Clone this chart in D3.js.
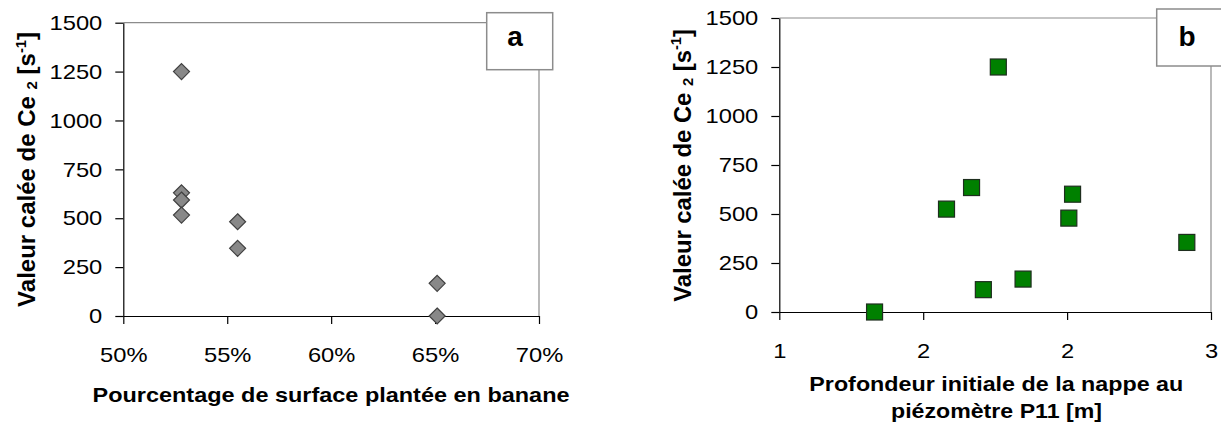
<!DOCTYPE html>
<html><head><meta charset="utf-8">
<script src="https://cdn.jsdelivr.net/npm/d3@7"></script>
<style>body{margin:0;background:#fff}svg{display:block}text{font-family:"Liberation Sans",Arial,sans-serif;fill:#000}</style>
</head><body>
<svg id="c" width="1221" height="428"></svg>
<script>
// Panel a data
const pctA = [52.8, 52.8, 52.8, 52.8, 55.5, 55.5, 65.1, 65.1];
const ceA = [1250, 630, 593, 516, 482, 346, 167, 0];
const xTicksA = [50, 55, 60, 65, 70];
// Panel b data
const depthB = [1.331, 1.581, 1.668, 1.761, 1.709, 1.847, 2.006, 2.019, 2.416];
const ceB = [0, 525, 635, 1250, 114, 168, 479, 601, 355];
const xTicksB = [1, 1.5, 2, 2.5];
const xTickLabelsB = ["1", "2", "2", "3"];
const yTicks = [0, 250, 500, 750, 1000, 1250, 1500];
const xTitleA = "Pourcentage de surface plantée en banane";
const xTitleB = ["Profondeur initiale de la nappe au", "piézomètre P11 [m]"];

const svg = d3.select("#c");
svg.append("rect").attr("width",1221).attr("height",428).attr("fill","#fff");
const SX = 1.13;

function panel(o){
  const g = svg.append("g");
  const x = d3.scaleLinear().domain(o.xd).range([o.l, o.r]);
  const y = d3.scaleLinear().domain([0,1500]).range([o.b, o.t]);
  g.append("path").attr("d", `M${o.l},${o.t}H${o.r}V${o.b}`).attr("fill","none").attr("stroke","#8c8c8c").attr("stroke-width",1.2);
  const ya = g.append("g").attr("transform",`translate(${o.l},0)`)
    .call(d3.axisLeft(y).tickValues(yTicks).tickSize(8).tickPadding(13).tickSizeOuter(0).tickFormat(d3.format("d")));
  const xa = g.append("g").attr("transform",`translate(0,${o.b})`)
    .call(d3.axisBottom(x).tickValues(o.xt).tickSize(8).tickPadding(23).tickSizeOuter(0).tickFormat(o.fmt));
  [ya,xa].forEach(a=>{
    a.attr("font-size",21).attr("font-family",'"Liberation Sans",Arial,sans-serif');
    a.select(".domain").attr("stroke","#000").attr("stroke-width",1.2);
    a.selectAll(".tick line").attr("stroke","#000").attr("stroke-width",1.2);
    a.selectAll(".tick text").attr("font-size",21).attr("fill","#000");
  });
  ya.selectAll(".tick text").attr("x",-21/SX).attr("transform",`scale(${SX},1)`);
  xa.selectAll(".tick text").attr("transform",`scale(${SX},1)`);
  g.append("rect").attr("x",o.bx).attr("y",o.by).attr("width",66).attr("height",57)
    .attr("fill","#fff").attr("stroke","#8c8c8c").attr("stroke-width",1.5);
  g.append("text").attr("x",o.lx).attr("y",o.ly).attr("text-anchor","middle")
    .attr("font-size",28).attr("font-weight","bold").text(o.letter);
  const yt = g.append("text").attr("text-anchor","middle").attr("font-weight","bold").attr("font-size",21)
    .attr("transform",`translate(${o.ytx},${o.yty}) scale(1.18,1) rotate(-90)`)
    .attr("textLength",o.ytl).attr("lengthAdjust","spacingAndGlyphs");
  yt.append("tspan").text("Valeur calée de Ce ");
  yt.append("tspan").attr("font-size",13).attr("dy",2).text("2");
  yt.append("tspan").attr("dy",-2).text(" [s");
  yt.append("tspan").attr("font-size",13).attr("dy",-8).text("-1");
  yt.append("tspan").attr("dy",8).text("]");
  return {g,x,y};
}

// Panel a
const A = panel({l:123.3,r:539,t:22.7,b:316,xd:[50,70],xt:xTicksA,fmt:d=>d+"%",
  bx:486.7,by:12.7,lx:515,ly:46,letter:"a",ytx:35,yty:169.4,ytl:275});
A.g.selectAll("path.pt").data(pctA.map((v,i)=>[v,ceA[i]])).join("path")
  .attr("d", d=>{const cx=A.x(d[0]), cy=A.y(d[1]), s=8; return `M${cx},${cy-s}L${cx+s},${cy}L${cx},${cy+s}L${cx-s},${cy}Z`;})
  .attr("fill","#888").attr("stroke","#404040").attr("stroke-width",1.2);
A.g.append("text").attr("x",331).attr("y",401.7).attr("text-anchor","middle")
  .attr("font-size",20.5).attr("font-weight","bold").attr("textLength",477).attr("lengthAdjust","spacingAndGlyphs").text(xTitleA);

// Panel b
const B = panel({l:779.3,r:1211,t:18,b:312,xd:[1,2.5],xt:xTicksB,fmt:(d,i)=>xTickLabelsB[i],
  bx:1156.7,by:9,lx:1187,ly:45.7,letter:"b",ytx:690.7,yty:165.4,ytl:272.7});
B.g.selectAll("rect.pt").data(depthB.map((v,i)=>[v,ceB[i]])).join("rect")
  .attr("x",d=>B.x(d[0])-8).attr("y",d=>B.y(d[1])-8).attr("width",16).attr("height",16)
  .attr("fill","#008000").attr("stroke","#1e2e1e").attr("stroke-width",1.2);
B.g.append("text").attr("x",996.3).attr("y",391).attr("text-anchor","middle")
  .attr("font-size",20.5).attr("font-weight","bold").attr("textLength",374).attr("lengthAdjust","spacingAndGlyphs").text(xTitleB[0]);
B.g.append("text").attr("x",996.5).attr("y",418.3).attr("text-anchor","middle")
  .attr("font-size",20.5).attr("font-weight","bold").attr("textLength",211).attr("lengthAdjust","spacingAndGlyphs").text(xTitleB[1]);
</script>
</body></html>
